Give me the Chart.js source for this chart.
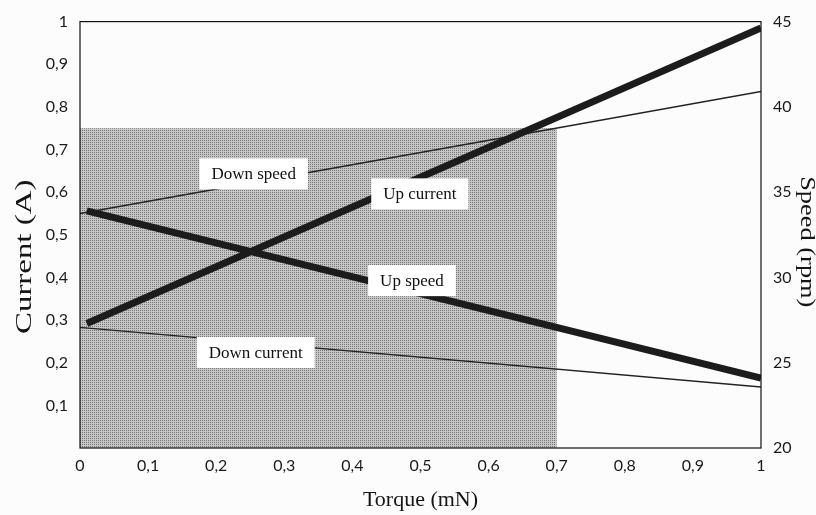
<!DOCTYPE html>
<html>
<head>
<meta charset="utf-8">
<script src="https://cdn.jsdelivr.net/npm/chart.js@4"></script>
<style>
  html, body { margin: 0; padding: 0; background: #fcfcfc; }
  #wrap { width: 816px; height: 515px; }
</style>
</head>
<body>
<div id="wrap"><canvas id="c" width="816" height="515"></canvas></div>
<script>
// ---- data ----
const upCurrentX   = [0.01, 1];
const upCurrent    = [0.292, 0.985];
const downCurrentX = [0, 1];
const downCurrent  = [0.283, 0.143];
const upSpeedX     = [0.01, 1];
const upSpeed      = [33.9, 24.1];
const downSpeedX   = [0, 1];
const downSpeed    = [33.75, 40.9];

// shaded zone (torque range, current range)
const shadeX = [0, 0.7];
const shadeY = [0, 0.75];

// in-plot labels (torque, current)
const labelText = ['Down speed', 'Up current', 'Up speed', 'Down current'];
const labelX    = [0.255, 0.499, 0.4875, 0.258];
const labelY    = [0.643, 0.596, 0.3925, 0.224];

// axis titles
const xTitle  = 'Torque (mN)';
const yCTitle = 'Current (A)';
const ySTitle = 'Speed (rpm)';

const currentTicks = [0, 0.1, 0.2, 0.3, 0.4, 0.5, 0.6, 0.7, 0.8, 0.9, 1];
const speedTicks   = [20, 25, 30, 35, 40, 45];
const torqueTicks  = [0, 0.1, 0.2, 0.3, 0.4, 0.5, 0.6, 0.7, 0.8, 0.9, 1];

const pts = (xs, ys) => xs.map((x, i) => ({x: x, y: ys[i]}));
const fmt = v => (Math.abs(v) < 1e-9 ? '0' : Math.abs(v - 1) < 1e-9 ? '1' : v.toFixed(1).replace('.', ','));

const SERIF = "'Liberation Serif', 'DejaVu Serif', serif";
const SANS  = "Lato, 'Open Sans', sans-serif";

function makePattern(ctx) {
  const p = document.createElement('canvas');
  p.width = 2; p.height = 2;
  const pc = p.getContext('2d');
  pc.fillStyle = '#c6c6c6';
  pc.fillRect(0, 0, 2, 2);
  pc.fillStyle = '#777777';
  pc.fillRect(0, 0, 1, 1);
  return ctx.createPattern(p, 'repeat');
}

function stretchedText(ctx, text, x, y, rot, size, sx) {
  ctx.save();
  ctx.translate(x, y);
  ctx.rotate(rot);
  ctx.scale(sx, 1);
  ctx.font = size + 'px ' + SERIF;
  ctx.textAlign = 'center';
  ctx.textBaseline = 'middle';
  ctx.fillStyle = '#151515';
  ctx.fillText(text, 0, 0);
  ctx.restore();
}

const decor = {
  id: 'decor',
  beforeDatasetsDraw(chart) {
    const {ctx, scales} = chart;
    const x = scales.x, y = scales.yC;
    ctx.save();
    ctx.fillStyle = makePattern(ctx);
    const x0 = x.getPixelForValue(shadeX[0]), x1 = x.getPixelForValue(shadeX[1]);
    const y0 = y.getPixelForValue(shadeY[0]), y1 = y.getPixelForValue(shadeY[1]);
    ctx.fillRect(x0, y1, x1 - x0, y0 - y1);
    ctx.restore();
  },
  afterDatasetsDraw(chart) {
    const {ctx, scales, chartArea} = chart;
    const x = scales.x, y = scales.yC;
    ctx.save();
    ctx.font = '17px ' + SERIF;
    ctx.textAlign = 'center';
    ctx.textBaseline = 'middle';
    labelText.forEach((t, i) => {
      const px = x.getPixelForValue(labelX[i]);
      const py = y.getPixelForValue(labelY[i]);
      const w = ctx.measureText(t).width + 24;
      const h = 31;
      ctx.fillStyle = '#ffffff';
      ctx.fillRect(px - w / 2, py - h / 2, w, h);
      ctx.fillStyle = '#111';
      ctx.fillText(t, px, py + 1);
    });
    ctx.strokeStyle = '#111';
    ctx.lineWidth = 1.2;
    ctx.strokeRect(chartArea.left, chartArea.top, chartArea.right - chartArea.left, chartArea.bottom - chartArea.top);
    ctx.restore();

    // axis titles (text in the original is stretched along its length)
    const midY = (chartArea.top + chartArea.bottom) / 2;
    const midX = (chartArea.left + chartArea.right) / 2;
    stretchedText(ctx, yCTitle, 25, midY + 22, -Math.PI / 2, 23, 1.43);
    stretchedText(ctx, ySTitle, 806, midY + 7, Math.PI / 2, 20, 1.32);
    stretchedText(ctx, xTitle, midX, 500, 0, 22, 1.0);
  }
};

const thick = { borderColor: '#1c1c1c', borderWidth: 7, pointRadius: 0, fill: false, tension: 0, borderCapStyle: 'butt' };
const thin  = { borderColor: '#222', borderWidth: 1.4, pointRadius: 0, fill: false, tension: 0 };

new Chart(document.getElementById('c'), {
  type: 'line',
  data: {
    datasets: [
      Object.assign({ label: 'Up current',   data: pts(upCurrentX, upCurrent),     yAxisID: 'yC' }, thick),
      Object.assign({ label: 'Down current', data: pts(downCurrentX, downCurrent), yAxisID: 'yC' }, thin),
      Object.assign({ label: 'Up speed',     data: pts(upSpeedX, upSpeed),         yAxisID: 'yS' }, thick),
      Object.assign({ label: 'Down speed',   data: pts(downSpeedX, downSpeed),     yAxisID: 'yS' }, thin)
    ]
  },
  options: {
    responsive: false,
    animation: false,
    layout: { padding: { top: 20, left: 0, right: 0, bottom: 0 } },
    plugins: { legend: { display: false }, tooltip: { enabled: false } },
    scales: {
      x: {
        type: 'linear', min: 0, max: 1,
        afterBuildTicks: s => { s.ticks = torqueTicks.map(v => ({value: v})); },
        afterFit: s => { s.height = 67; },
        grid: { display: false, drawTicks: false },
        border: { display: false },
        ticks: { padding: 8, color: '#1a1a1a', font: { family: SANS, size: 16 }, callback: v => fmt(v), maxRotation: 0, autoSkip: false },
        title: { display: false, text: xTitle }
      },
      yC: {
        type: 'linear', position: 'left', min: 0, max: 1,
        afterBuildTicks: s => { s.ticks = currentTicks.map(v => ({value: v})); },
        afterFit: s => { s.width = 80; },
        grid: { display: false, drawTicks: false },
        border: { display: false },
        ticks: { padding: 12, color: '#1a1a1a', font: { family: SANS, size: 16 }, callback: v => (v === 0 ? '' : fmt(v)), autoSkip: false },
        title: { display: false, text: yCTitle }
      },
      yS: {
        type: 'linear', position: 'right', min: 20, max: 45,
        afterBuildTicks: s => { s.ticks = speedTicks.map(v => ({value: v})); },
        afterFit: s => { s.width = 55; },
        grid: { display: false, drawTicks: false },
        border: { display: false },
        ticks: { padding: 12, color: '#1a1a1a', font: { family: SANS, size: 16 }, autoSkip: false },
        title: { display: false, text: ySTitle }
      }
    }
  },
  plugins: [decor]
});
</script>
</body>
</html>
